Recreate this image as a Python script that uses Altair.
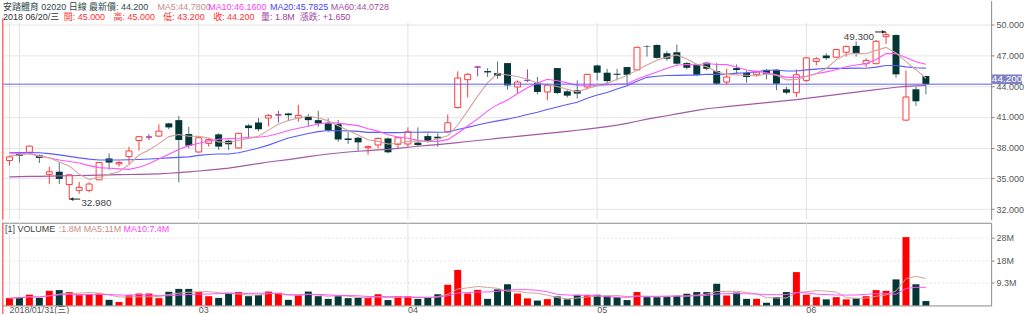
import altair as alt
import pandas as pd

# ---------------- data ----------------
opens = [36.75, 37.4, 37.55, 37.25, 35.4, 35.65, 34.4, 33.83, 33.83, 34.86,
         36.95, 36.42, 37.13, 38.7, 39.04, 39.13, 40.37, 40.69, 39.33, 37.58,
         38.42, 39.3, 38.68, 37.97, 40.17, 40.46, 40.9, 41.2, 41.34, 40.9,
         41.01, 40.69, 40.37, 40.3, 38.9, 38.97, 38.0, 38.26, 38.9, 38.33,
         38.36, 38.49, 39.13, 39.07, 39.55, 41.92, 44.64, 45.87, 45.48, 45.28,
         46.26, 43.93, 44.57, 44.35, 43.44, 45.77, 43.5, 43.6, 43.93, 46.03,
         45.32, 45.22, 45.87, 45.6, 47.9, 48.03, 47.22, 47.32, 46.26, 46.1,
         46.3, 45.48, 44.41, 45.77, 45.32, 45.12, 45.6, 45.6, 43.7, 43.37,
         44.57, 46.42, 47.0, 46.84, 47.32, 47.94, 46.2, 46.2, 48.84, 49.0,
         40.69, 43.7, 45.0]
highs = [37.2, 37.6, 38.2, 37.35, 36.15, 36.6, 35.4, 34.65, 34.6, 36.6,
         37.45, 36.7, 38.1, 39.13, 39.33, 40.27, 40.43, 41.1, 40.04, 39.07,
         38.9, 39.4, 38.75, 39.46, 40.3, 40.9, 41.27, 41.6, 41.4, 42.2,
         41.27, 41.6, 40.85, 40.7, 39.55, 39.07, 38.23, 39.0, 39.0, 39.07,
         39.98, 39.98, 39.4, 39.4, 41.24, 45.45, 45.3, 46.0, 45.77, 46.42,
         46.26, 44.57, 45.64, 44.9, 44.25, 45.77, 43.67, 44.57, 45.22, 46.1,
         45.7, 45.7, 45.87, 47.87, 48.0, 48.07, 47.42, 48.07, 46.35, 46.2,
         46.35, 46.26, 45.7, 46.13, 45.54, 45.54, 45.7, 45.67, 43.93, 45.64,
         46.84, 46.84, 47.22, 47.65, 47.97, 48.39, 46.74, 48.52, 49.3, 49.07,
         45.54, 43.93, 45.0]
lows = [36.25, 36.55, 37.3, 36.5, 34.45, 34.45, 32.98, 33.5, 33.65, 34.85,
        35.85, 36.15, 36.4, 37.7, 38.75, 39.07, 39.78, 34.6, 37.94, 37.5,
        38.1, 37.78, 37.78, 37.9, 39.0, 39.6, 40.1, 40.46, 40.6, 40.53,
        40.1, 40.04, 39.55, 38.58, 38.36, 37.68, 37.3, 37.94, 37.45, 37.94,
        38.04, 38.17, 38.49, 38.1, 39.49, 41.82, 42.9, 44.96, 44.9, 44.73,
        43.67, 43.34, 44.41, 43.21, 42.63, 43.21, 42.9, 42.79, 43.67, 44.57,
        44.18, 44.57, 44.18, 45.54, 46.9, 46.68, 46.5, 46.1, 45.64, 45.06,
        45.54, 44.15, 44.18, 45.22, 44.35, 44.96, 44.67, 43.6, 43.21, 42.95,
        44.41, 46.03, 46.58, 46.77, 46.9, 46.9, 45.87, 46.2, 48.13, 44.83,
        40.62, 42.08, 43.2]
closes = [37.1, 37.2, 38.15, 37.0, 35.65, 34.95, 35.35, 34.12, 34.45, 36.55,
          36.55, 36.55, 37.68, 39.07, 39.04, 39.62, 39.98, 38.75, 38.2, 38.97,
          38.8, 38.1, 38.33, 39.4, 39.91, 39.8, 41.14, 41.2, 41.17, 41.14,
          40.69, 40.37, 39.72, 38.8, 38.75, 38.52, 38.1, 38.9, 37.55, 38.97,
          39.55, 38.26, 38.68, 38.9, 40.43, 44.8, 45.16, 45.87, 45.35, 45.03,
          44.08, 44.41, 44.57, 43.44, 44.09, 43.34, 43.08, 43.28, 45.16, 45.32,
          44.5, 45.12, 45.12, 47.8, 47.85, 46.77, 46.68, 46.2, 45.8, 45.12,
          45.7, 44.25, 44.9, 45.58, 44.9, 45.38, 45.22, 44.25, 43.37, 45.12,
          46.77, 46.68, 46.74, 47.58, 47.87, 47.16, 46.51, 48.39, 49.04, 45.16,
          42.95, 42.53, 44.2]
volumes = [3.0, 3.3, 4.4, 3.1, 6.0, 6.3, 5.5, 4.2, 4.6, 4.9,
           2.3, 1.4, 4.2, 4.9, 4.9, 3.0, 5.6, 6.8, 6.8, 5.6,
           3.8, 3.1, 5.2, 5.5, 3.8, 4.2, 5.7, 5.2, 2.3, 4.2,
           5.7, 3.8, 2.7, 3.8, 3.0, 3.1, 3.1, 4.6, 2.2, 3.8,
           3.8, 2.7, 3.4, 4.6, 8.5, 14.6, 4.9, 6.4, 2.7, 6.6,
           8.7, 4.9, 2.9, 2.0, 2.6, 3.7, 2.5, 4.4, 4.2, 4.4,
           4.0, 3.4, 2.2, 5.5, 3.4, 3.4, 3.6, 4.0, 4.8, 5.5,
           5.5, 8.9, 4.1, 5.3, 2.7, 2.7, 1.1, 3.4, 5.5, 13.7,
           4.4, 3.4, 2.5, 3.4, 2.5, 2.9, 3.8, 6.3, 6.0, 10.7,
           28.1, 8.7, 1.8]
ma5_head = [37.2, 37.3, 37.4, 37.15]
ma10_head = [37.45, 37.45, 37.45, 37.2, 37.0, 36.8, 36.65, 36.5, 36.25]
ma20_head = [37.5, 37.52, 37.53, 37.5, 37.42, 37.3, 37.15, 37.0, 36.88, 36.8,
             36.8, 36.8, 36.82, 36.85, 36.9, 36.95, 37.0, 37.05, 37.1]
ma60 = [35.15, 35.17, 35.19, 35.2, 35.22, 35.24, 35.26, 35.28, 35.3, 35.32,
        35.34, 35.36, 35.38, 35.4, 35.42, 35.45, 35.5, 35.57, 35.64, 35.72,
        35.8, 35.9, 36.0, 36.15, 36.3, 36.45, 36.6, 36.72, 36.84, 36.98,
        37.12, 37.26, 37.38, 37.48, 37.58, 37.65, 37.72, 37.78, 37.84, 37.94,
        38.04, 38.14, 38.22, 38.3, 38.4, 38.5, 38.6, 38.7, 38.8, 38.9,
        39.0, 39.1, 39.2, 39.3, 39.4, 39.5, 39.6, 39.7, 39.82, 39.94,
        40.06, 40.2, 40.38, 40.58, 40.78, 40.95, 41.12, 41.3, 41.47, 41.64,
        41.8, 41.9, 42.0, 42.1, 42.2, 42.3, 42.4, 42.5, 42.6, 42.7,
        42.82, 42.94, 43.06, 43.18, 43.3, 43.42, 43.54, 43.66, 43.78, 43.9,
        43.98, 44.03, 44.07]

month_idx = [0, 1, 19, 40, 59, 80]
month_labels = ["2018/01/31(三)", "", "03", "04", "05", "06"]
price_ticks = [32, 35, 38, 41, 44, 47, 50]
vol_ticks = [9.3, 18.6, 27.9]
vol_tick_labels = ["9.3M", "18M", "28M"]
last_price = [44.2]
low_mark = {"idx": [6], "val": [32.98], "label": ["32.980"]}
high_mark = {"idx": [88], "val": [49.3], "label": ["49.300"]}

header1 = ["安踏體育 02020 日線 最新價: 44.200", "MA5:44.7800", "MA10:46.1600",
           "MA20:45.7825", "MA60:44.0728"]
header2 = ["2018 06/20/三", "開: 45.000", "高: 45.000", "低: 43.200", "收: 44.200",
           "量: 1.8M", "漲跌: +1.650"]
vol_header = ["[1] VOLUME", ":1.8M MA5:11M", "MA10:7.4M"]

# ---------------- styles ----------------
FONT = "Liberation Sans, Noto Sans CJK TC, sans-serif"
UP = "#ff3b3b"
DOWN = "#043636"
DOWN_WICK = "#527474"
FLAT = "#a040a0"
C_MA5 = "#d4a39c"
C_MA10 = "#ff55ff"
C_MA20 = "#5a5aff"
C_MA60 = "#a558a8"
GRID = "#e6e6e6"

n = len(closes)


def padded(head):
    return head + [None] * (n - len(head))


df = pd.DataFrame({
    "idx": list(range(n)),
    "open": opens, "high": highs, "low": lows, "close": closes,
    "volume": volumes,
    "ma5h": padded(ma5_head), "ma10h": padded(ma10_head), "ma20h": padded(ma20_head),
    "ma60": ma60,
})

xs = alt.Scale(domain=[-0.7, 98.6], nice=False, zero=False)
ys = alt.Scale(domain=[30.96, 52.36], nice=False, zero=False)
vs = alt.Scale(domain=[0, 34.0], nice=False, zero=False)


def label_expr(values, labels):
    expr = "''"
    for v, lab in reversed(list(zip(values, labels))):
        expr = f"abs(datum.value - {v}) < 0.01 ? '{lab}' : ({expr})"
    return expr


price_axis = alt.Axis(orient="right", values=price_ticks, format=".3f",
                      labelFontSize=9, labelColor="#555555", labelFont=FONT,
                      tickSize=3, tickColor="#888888", domainColor="#888888",
                      grid=True, gridColor=GRID, title=None, labelPadding=2)


def XQ(field):
    return alt.X(f"{field}:Q", scale=xs, axis=None)


def YQ(field):
    return alt.Y(f"{field}:Q", scale=ys, axis=price_axis)


base = alt.Chart(df).transform_calculate(
    dir="datum.close > datum.open ? 'up' : (datum.close < datum.open ? 'down' : 'flat')",
    xw="datum.idx + 0.05",
    xl="datum.idx - 0.25",
    xr="datum.idx + 0.35",
    xdl="datum.idx - 0.3",
    xdr="datum.idx + 0.4",
)

# vertical month grid lines in the price panel
vgrid = alt.Chart(pd.DataFrame({"idx": month_idx})).transform_calculate(
    xg="datum.idx + 0.05").mark_rule(color="#e2e2e2").encode(
    x=XQ("xg"), y=alt.value(22), y2=alt.value(220))

wicks = base.mark_rule(strokeWidth=1).encode(
    x=XQ("xw"),
    y=YQ("low"),
    y2="high:Q",
    color=alt.Color("dir:N", scale=alt.Scale(domain=["up", "down", "flat"],
                                             range=[UP, DOWN_WICK, FLAT]), legend=None),
)

up_bodies = base.transform_filter("datum.close >= datum.open").mark_rect(
    fill="white", strokeWidth=1).encode(
    x=XQ("xl"), x2="xr:Q", y=YQ("open"), y2="close:Q",
    stroke=alt.Stroke("dir:N", scale=alt.Scale(domain=["up", "flat"], range=[UP, FLAT]),
                      legend=None),
)

down_bodies = base.transform_filter("datum.close < datum.open").mark_rect(
    color=DOWN).encode(x=XQ("xdl"), x2="xdr:Q", y=YQ("open"), y2="close:Q")

srt = [alt.SortField("idx")]
ma_src = base.transform_window(ma5c="mean(close)", frame=[-4, 0], sort=srt) \
    .transform_window(ma10c="mean(close)", frame=[-9, 0], sort=srt) \
    .transform_window(ma20c="mean(close)", frame=[-19, 0], sort=srt) \
    .transform_calculate(
        ma5=f"datum.idx < {len(ma5_head)} ? datum.ma5h : datum.ma5c",
        ma10=f"datum.idx < {len(ma10_head)} ? datum.ma10h : datum.ma10c",
        ma20=f"datum.idx < {len(ma20_head)} ? datum.ma20h : datum.ma20c",
    )

ma_lines = [
    ma_src.mark_line(color=c, strokeWidth=w).encode(x=XQ("xw"), y=YQ(f))
    for f, c, w in [("ma60", C_MA60, 1.2), ("ma20", C_MA20, 1.1),
                    ("ma10", C_MA10, 1.1), ("ma5", C_MA5, 1.1)]
]

pr_df = pd.DataFrame({"p": last_price})
price_rule = alt.Chart(pr_df).mark_rule(color="#5c5cff", strokeWidth=1).encode(y=YQ("p"))
price_box = alt.Chart(pr_df).transform_calculate(ptop="datum.p + 0.95").mark_rect(
    color="#8081c2").encode(x=alt.value(994), x2=alt.value(1024), y=YQ("p"), y2="ptop:Q")
price_txt = alt.Chart(pr_df).transform_calculate(pm="datum.p + 0.47").mark_text(
    color="white", fontSize=10, font=FONT).encode(
    x=alt.value(1009), y=YQ("pm"), text=alt.Text("p:Q", format=".3f"))

# min / max annotations
lo = alt.Chart(pd.DataFrame(low_mark)).transform_calculate(
    a0="datum.idx + 0.05", a1="datum.idx + 1.15", ah="datum.idx + 0.3")
hi = alt.Chart(pd.DataFrame(high_mark)).transform_calculate(
    a0="datum.idx + 0.05", a1="datum.idx - 1.05", ah="datum.idx - 0.2")
annotations = []
for src, align, dy, shape in [(lo, "left", 3.5, "triangle-left"),
                              (hi, "right", 5, "triangle-right")]:
    annotations.append(src.mark_rule(color="#222222", strokeWidth=1).encode(
        x=XQ("a0"), x2="a1:Q", y=YQ("val")))
    annotations.append(src.mark_point(shape=shape, filled=True, size=14,
                                      color="#222222", opacity=1).encode(
        x=XQ("ah"), y=YQ("val")))
    annotations.append(src.mark_text(align=align, baseline="middle", dy=dy,
                                     dx=(1 if align == "left" else -1),
                                     fontSize=10, font=FONT, color="#444444").encode(
        x=XQ("a1"), y=YQ("val"), text="label:N"))


def text_layer(txt, x, y, color, size):
    return alt.Chart(pd.DataFrame({"t": [txt]})).mark_text(
        align="left", baseline="middle", fontSize=size, font=FONT, color=color).encode(
        x=alt.value(x), y=alt.value(y), text="t:N")


h1_x = [1, 156, 207, 269, 330]
h1_c = ["#2e4a4a", "#c98d86", "#ff40ff", "#4444ff", "#a050a8"]
h2_x = [1, 62, 112, 162, 212, 260, 299]
h2_c = ["#333333", "#ff3030", "#ff3030", "#ff3030", "#ff3030", "#a040a0", "#a040a0"]
headers = [text_layer(t, x, 6, c, 9) for t, x, c in zip(header1, h1_x, h1_c)]
headers += [text_layer(t, x, 16.5, c, 9) for t, x, c in zip(header2, h2_x, h2_c)]

red_left = alt.Chart(pd.DataFrame({"v": [0]})).mark_rule(
    color="#ff6a6a", strokeWidth=1.5).encode(
    x=alt.value(0.75), y=alt.value(18), y2=alt.value(220))

price = alt.layer(vgrid, wicks, up_bodies, down_bodies, *ma_lines, price_rule,
                  price_box, price_txt, *annotations, *headers, red_left).properties(
    width=993, height=220)

# ---------------- volume panel ----------------
vbase = alt.Chart(df).transform_calculate(
    vdir="datum.close >= datum.open ? 'vup' : 'vdown'",
    xw="datum.idx + 0.05",
    xdl="datum.idx - 0.3",
    xdr="datum.idx + 0.4",
)

vol_x_axis = alt.Axis(values=month_idx, labelExpr=label_expr(month_idx, month_labels),
                      labelAlign="left", labelBaseline="middle", labelFontSize=9,
                      labelColor="#555555", labelFont=FONT, ticks=False,
                      domain=False, grid=True, gridColor="#e2e2e2", title=None,
                      labelPadding=4, labelOverlap=False, labelFlush=False,
                      labelBound=False)
vol_y_axis = alt.Axis(orient="right", values=vol_ticks,
                      labelExpr=label_expr(vol_ticks, vol_tick_labels),
                      labelFontSize=9, labelColor="#555555", labelFont=FONT,
                      tickSize=3, tickColor="#888888", domain=False,
                      grid=True, gridColor="#e4e4e4", gridDash=[2, 2], title=None,
                      labelPadding=2)


def VX(field):
    return alt.X(f"{field}:Q", scale=xs, axis=vol_x_axis)


def VY(field):
    return alt.Y(f"{field}:Q", scale=vs, axis=vol_y_axis)


vbars = vbase.mark_rect().encode(
    x=VX("xdl"), x2="xdr:Q",
    y=VY("volume"), y2=alt.datum(0),
    color=alt.Color("vdir:N", scale=alt.Scale(domain=["vup", "vdown"],
                                              range=["#ff0000", DOWN]), legend=None),
)

vma = vbase.transform_window(vma5="mean(volume)", frame=[-4, 0], sort=srt) \
    .transform_window(vma10="mean(volume)", frame=[-9, 0], sort=srt)
vma_lines = [
    vma.mark_line(color=c, strokeWidth=1).encode(x=VX("xw"), y=VY(f))
    for f, c in [("vma5", C_MA5), ("vma10", C_MA10)]
]

vh_x = [3, 57, 122]
vh_c = ["#444444", "#c98d86", "#ff40ff"]
vheaders = [text_layer(t, x, 6.5, c, 9) for t, x, c in zip(vol_header, vh_x, vh_c)]

red_left_v = alt.Chart(pd.DataFrame({"v": [0]})).mark_rule(
    color="#ff6a6a", strokeWidth=1.5).encode(
    x=alt.value(0.75), y=alt.value(0), y2=alt.value(94))
pink_bottom = alt.Chart(pd.DataFrame({"v": [0]})).mark_rule(
    color="#ffd2d2", strokeWidth=1.5).encode(
    x=alt.value(0), x2=alt.value(1024), y=alt.value(93))

volume = alt.layer(vbars, *vma_lines, *vheaders, red_left_v, pink_bottom).properties(
    width=993, height=83, view=alt.ViewBackground(stroke="#8a8a8a"))

chart = alt.vconcat(price, volume, spacing=0).resolve_scale(
    color="independent", stroke="independent").properties(
    padding=0, background="white",
    autosize=alt.AutoSizeParams(type="pad"),
).configure_view(stroke=None)

chart.save("out.html", embed_options={"renderer": "svg", "actions": False})
